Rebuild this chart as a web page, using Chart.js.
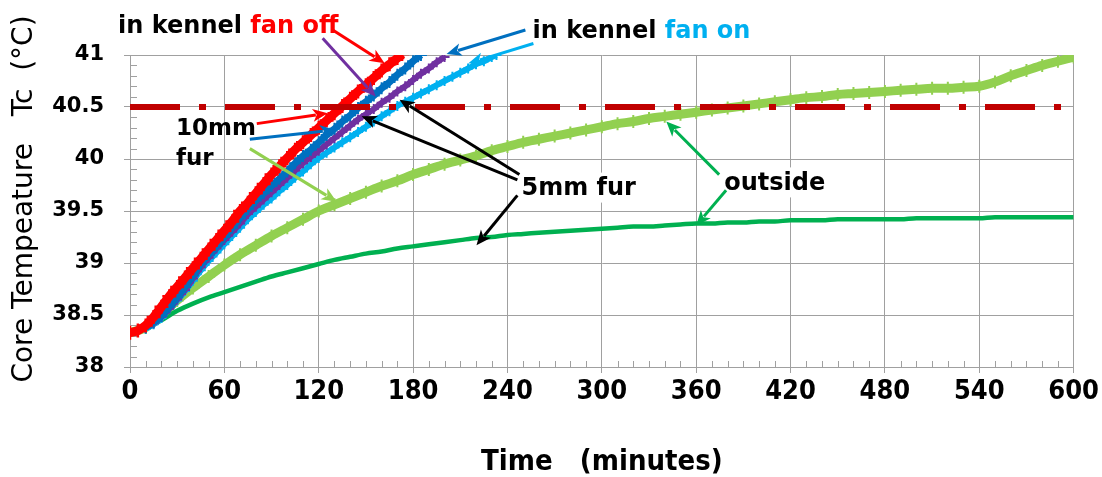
<!DOCTYPE html>
<html><head><meta charset="utf-8">
<script src="https://cdn.jsdelivr.net/npm/chart.js@4.4.1/dist/chart.umd.min.js"></script>
<style>html,body{margin:0;padding:0;background:#fff;}canvas{display:block;}</style>
</head><body>
<canvas id="c" width="1102" height="477"></canvas>
<script>
// ---------- DATA (time in minutes, core temperature in °C) ----------
const xTickLabels = [0,60,120,180,240,300,360,420,480,540,600];
const yTickLabels = [38,38.5,39,39.5,40,40.5,41];

// in kennel, fan off, 10mm fur (red)
const redTimes = [0,5,10,15,20,25,30,35,40,45,50,55,60,65,70,75,80,85,90,95,100,105,110,115,120,125,130,135,140,145,150,155,160,165,170,173];
const redTemps = [38.33,38.35,38.40,38.48,38.58,38.68,38.77,38.86,38.95,39.04,39.13,39.22,39.31,39.40,39.50,39.58,39.67,39.76,39.85,39.93,40.01,40.09,40.16,40.23,40.30,40.37,40.44,40.51,40.58,40.65,40.71,40.78,40.85,40.91,40.97,41.01];

// in kennel, fan on, 10mm fur (dark blue)
const blueTimes = [10,15,20,25,30,35,40,45,50,55,60,65,70,75,80,85,90,95,100,105,110,115,120,125,130,135,140,145,150,155,160,165,170,175,180,185];
const blueTemps = [38.38,38.43,38.49,38.58,38.67,38.77,38.88,38.99,39.08,39.16,39.25,39.34,39.43,39.52,39.60,39.67,39.74,39.81,39.88,39.96,40.03,40.09,40.16,40.23,40.29,40.36,40.42,40.49,40.55,40.61,40.68,40.74,40.81,40.87,40.94,41.00];

// in kennel, fan off, 5mm fur (purple)
const purpleTimes = [10,15,20,25,30,35,40,45,50,55,60,65,70,75,80,85,90,95,100,105,110,115,120,125,130,135,140,145,150,155,160,165,170,175,180,185,190,195,200];
const purpleTemps = [38.38,38.42,38.48,38.56,38.65,38.74,38.85,38.96,39.05,39.14,39.22,39.30,39.38,39.47,39.54,39.61,39.68,39.75,39.82,39.89,39.96,40.02,40.08,40.14,40.20,40.26,40.32,40.38,40.43,40.48,40.54,40.59,40.65,40.70,40.76,40.82,40.87,40.93,40.98];

// in kennel, fan on, 5mm fur (light blue)
const cyanTimes = [10,15,20,25,30,35,40,45,50,55,60,65,70,75,80,85,90,95,100,105,110,115,120,125,130,135,140,145,150,155,160,165,170,175,180,185,190,195,200,205,210,215,220,225,230,233];
const cyanTemps = [38.37,38.41,38.47,38.56,38.64,38.73,38.83,38.93,39.02,39.10,39.18,39.26,39.34,39.42,39.49,39.56,39.62,39.69,39.75,39.82,39.88,39.95,40.01,40.06,40.11,40.16,40.21,40.26,40.31,40.36,40.41,40.46,40.51,40.55,40.59,40.63,40.67,40.71,40.75,40.79,40.83,40.87,40.91,40.94,40.98,41.00];

// outside (10mm fur: light green, 5mm fur: green)
const outsideTimes = [0,10,20,30,40,50,60,70,80,90,100,110,120,130,140,150,160,170,180,190,200,210,220,230,240,250,260,270,280,290,300,310,320,330,340,350,360,370,380,390,400,410,420,430,440,450,460,470,480,490,500,510,520,530,540,550,560,570,580,590,600];
const outside10Temps = [38.33,38.38,38.50,38.64,38.76,38.87,38.98,39.08,39.17,39.26,39.34,39.42,39.50,39.56,39.62,39.68,39.74,39.79,39.85,39.90,39.95,39.99,40.03,40.08,40.12,40.16,40.19,40.22,40.25,40.28,40.31,40.34,40.36,40.39,40.41,40.43,40.45,40.47,40.49,40.51,40.53,40.55,40.57,40.59,40.60,40.62,40.63,40.64,40.65,40.66,40.67,40.68,40.68,40.69,40.70,40.74,40.80,40.85,40.90,40.94,40.98];
const outside5Temps = [38.33,38.37,38.45,38.54,38.61,38.67,38.72,38.77,38.82,38.87,38.91,38.95,38.99,39.03,39.06,39.09,39.11,39.14,39.16,39.18,39.20,39.22,39.24,39.25,39.27,39.28,39.29,39.30,39.31,39.32,39.33,39.34,39.35,39.35,39.36,39.37,39.38,39.38,39.39,39.39,39.40,39.40,39.41,39.41,39.41,39.42,39.42,39.42,39.42,39.42,39.43,39.43,39.43,39.43,39.43,39.44,39.44,39.44,39.44,39.44,39.44];

// threshold line
const thresholdTimes = [0,600];
const thresholdTemps = [40.5,40.5];

// ---------- helpers ----------
const pts = (xs, ys) => xs.map((x, i) => ({x, y: ys[i]}));
const GRID = '#A0A0A0';
const ANN_FONT = '"DejaVu Sans", sans-serif';

// annotation layout in data units (time, temperature)
const annTexts = [
  {parts:[['in kennel ','#000000'],['fan off','#FF0000']], t:-7.6, T:41.21, size:24},
  {parts:[['in kennel ','#000000'],['fan on','#00B0F0']], t:255.9, T:41.16, size:24},
  {parts:[['10mm','#000000']], t:29.2, T:40.23, size:23},
  {parts:[['fur','#000000']], t:29.2, T:39.94, size:23},
  {parts:[['5mm fur','#000000']], t:248.9, T:39.65, size:24, box:true},
  {parts:[['outside','#000000']], t:377.8, T:39.70, size:24, box:true}
];
const annArrows = [
  {from:[128.9,41.24], to:[161.9,40.92], color:'#FF0000'},
  {from:[122.5,41.16], to:[156.2,40.60], color:'#7030A0'},
  {from:[251.4,41.24], to:[201.3,41.01], color:'#0070C0'},
  {from:[256.5,41.11], to:[215.2,40.92], color:'#00B0F0'},
  {from:[80.6,40.34], to:[125.7,40.44], color:'#FF0000'},
  {from:[76.2,40.19], to:[130.2,40.28], color:'#0070C0'},
  {from:[76.2,40.10], to:[131.4,39.59], color:'#92D050'},
  {from:[246.3,39.80], to:[147.3,40.41], color:'#000000'},
  {from:[247.6,39.85], to:[171.4,40.57], color:'#000000'},
  {from:[246.3,39.65], to:[220.3,39.17], color:'#000000'},
  {from:[374.6,39.85], to:[341.0,40.36], color:'#00B050'},
  {from:[379.0,39.70], to:[360.0,39.36], color:'#00B050'}
];

function drawArrow(ctx, x1, y1, x2, y2, color) {
  const ang = Math.atan2(y2 - y1, x2 - x1);
  const L = 15, W = 6.5;
  ctx.save();
  ctx.strokeStyle = color; ctx.fillStyle = color; ctx.lineWidth = 3; ctx.lineCap = 'butt';
  ctx.beginPath();
  ctx.moveTo(x1, y1);
  ctx.lineTo(x2 - Math.cos(ang) * (L - 3), y2 - Math.sin(ang) * (L - 3));
  ctx.stroke();
  ctx.beginPath();
  ctx.moveTo(x2, y2);
  ctx.lineTo(x2 - L * Math.cos(ang) + W * Math.sin(ang), y2 - L * Math.sin(ang) - W * Math.cos(ang));
  ctx.lineTo(x2 - (L - 4) * Math.cos(ang), y2 - (L - 4) * Math.sin(ang));
  ctx.lineTo(x2 - L * Math.cos(ang) - W * Math.sin(ang), y2 - L * Math.sin(ang) + W * Math.cos(ang));
  ctx.closePath();
  ctx.fill();
  ctx.restore();
}

const decorPlugin = {
  id: 'decor',
  beforeDatasetsDraw(chart) {
    const {ctx, chartArea: a, scales: {x, y}} = chart;
    ctx.save();
    ctx.strokeStyle = GRID; ctx.lineWidth = 1;
    // minor ticks (inside)
    for (let i = 1; i < 30; i++) {
      if (i % 5 === 0) continue;
      const py = Math.round(y.getPixelForValue(38 + i / 10)) + 0.5;
      ctx.beginPath(); ctx.moveTo(a.left, py); ctx.lineTo(a.left + 7, py); ctx.stroke();
    }
    for (let i = 1; i < 60; i++) {
      if (i % 6 === 0) continue;
      const px = Math.round(x.getPixelForValue(i * 10)) + 0.5;
      ctx.beginPath(); ctx.moveTo(px, a.bottom); ctx.lineTo(px, a.bottom - 6); ctx.stroke();
    }
    // white boxes behind some labels
    annTexts.filter(t => t.box).forEach(t => {
      ctx.font = `bold ${t.size}px ${ANN_FONT}`;
      const w = t.parts.reduce((s, p) => s + ctx.measureText(p[0]).width, 0);
      const px = x.getPixelForValue(t.t), py = y.getPixelForValue(t.T);
      ctx.fillStyle = '#FFFFFF';
      ctx.fillRect(px - 6, py - t.size * 0.95, w + 12, t.size * 1.25);
    });
    ctx.restore();
  },
  afterDatasetsDraw(chart) {
    const {ctx, scales: {x, y}} = chart;
    annArrows.forEach(ar => drawArrow(ctx,
      x.getPixelForValue(ar.from[0]), y.getPixelForValue(ar.from[1]),
      x.getPixelForValue(ar.to[0]), y.getPixelForValue(ar.to[1]), ar.color));
    ctx.save();
    ctx.textBaseline = 'alphabetic'; ctx.textAlign = 'left';
    annTexts.forEach(t => {
      ctx.font = `bold ${t.size}px ${ANN_FONT}`;
      let px = x.getPixelForValue(t.t);
      const py = y.getPixelForValue(t.T);
      t.parts.forEach(p => { ctx.fillStyle = p[1]; ctx.fillText(p[0], px, py); px += ctx.measureText(p[0]).width; });
    });
    ctx.restore();
  },
  afterDraw(chart) {
    const {ctx, chartArea: a} = chart;
    ctx.save();
    ctx.fillStyle = '#000';
    ctx.font = `28px ${ANN_FONT}`;
    ctx.textAlign = 'center'; ctx.textBaseline = 'middle';
    ctx.translate(25, 199); ctx.rotate(-Math.PI / 2);
    ctx.fillText('Core Tempeature   Tc  (\u00B0C)', 0, 0);
    ctx.restore();
    ctx.save();
    ctx.fillStyle = '#000';
    ctx.font = 'bold 29px "DejaVu Sans Condensed", "DejaVu Sans", sans-serif';
    ctx.textAlign = 'center'; ctx.textBaseline = 'alphabetic';
    ctx.fillText('Time   (minutes)', (a.left + a.right) / 2, 470);
    ctx.restore();
  }
};

const series = (label, data, color, width, radius, pw) => ({
  label, data, borderColor: color, backgroundColor: color, borderWidth: width,
  pointStyle: 'cross', pointRadius: radius, pointBorderWidth: pw, pointBorderColor: color,
  pointHoverRadius: 0, cubicInterpolationMode: 'monotone', fill: false
});

new Chart(document.getElementById('c'), {
  type: 'line',
  data: {
    datasets: [
      {label: '40.5', data: pts(thresholdTimes, thresholdTemps), borderColor: '#C00000', borderWidth: 6,
       borderDash: [50, 19, 7, 19], borderCapStyle: 'butt', pointRadius: 0, fill: false},
      series('in kennel fan off 10mm', pts(redTimes, redTemps), '#FF0000', 9, 7, 2.5),
      series('in kennel fan on 10mm', pts(blueTimes, blueTemps), '#0070C0', 7, 6, 2),
      series('in kennel fan off 5mm', pts(purpleTimes, purpleTemps), '#7030A0', 6, 5, 2),
      series('in kennel fan on 5mm', pts(cyanTimes, cyanTemps), '#00B0F0', 6, 5, 2),
      {label: 'outside 5mm', data: pts(outsideTimes, outside5Temps), borderColor: '#00B050', borderWidth: 4.5,
       pointRadius: 0, cubicInterpolationMode: 'monotone', fill: false},
      series('outside 10mm', pts(outsideTimes, outside10Temps), '#92D050', 9, 6.5, 2)
    ]
  },
  options: {
    responsive: false, animation: false, devicePixelRatio: 1,
    layout: {padding: {top: 55, right: 27, left: 0, bottom: 0}},
    plugins: {legend: {display: false}, tooltip: {enabled: false}},
    scales: {
      x: {
        type: 'linear', min: 0, max: 600,
        afterBuildTicks: s => { s.ticks = xTickLabels.map(v => ({value: v})); },
        afterFit: s => { s.height = 110; },
        ticks: {color: '#000', padding: 3, maxRotation: 0, autoSkip: false,
                font: {family: '"DejaVu Sans Condensed", "DejaVu Sans", sans-serif', size: 27, weight: 'bold'}},
        grid: {color: GRID, tickColor: GRID, tickLength: 6, lineWidth: 1},
        border: {color: GRID, width: 1}
      },
      y: {
        min: 38, max: 41,
        afterBuildTicks: s => { s.ticks = yTickLabels.map(v => ({value: v})); },
        afterFit: s => { s.width = 130; },
        ticks: {color: '#000', padding: 20, autoSkip: false,
                callback: v => (Number.isInteger(v) ? String(v) : v.toFixed(1)),
                font: {family: ANN_FONT, size: 21, weight: 'bold'}},
        grid: {color: GRID, tickColor: GRID, tickLength: 6, lineWidth: 1},
        border: {color: GRID, width: 1}
      }
    }
  },
  plugins: [decorPlugin]
});
</script>
</body></html>
